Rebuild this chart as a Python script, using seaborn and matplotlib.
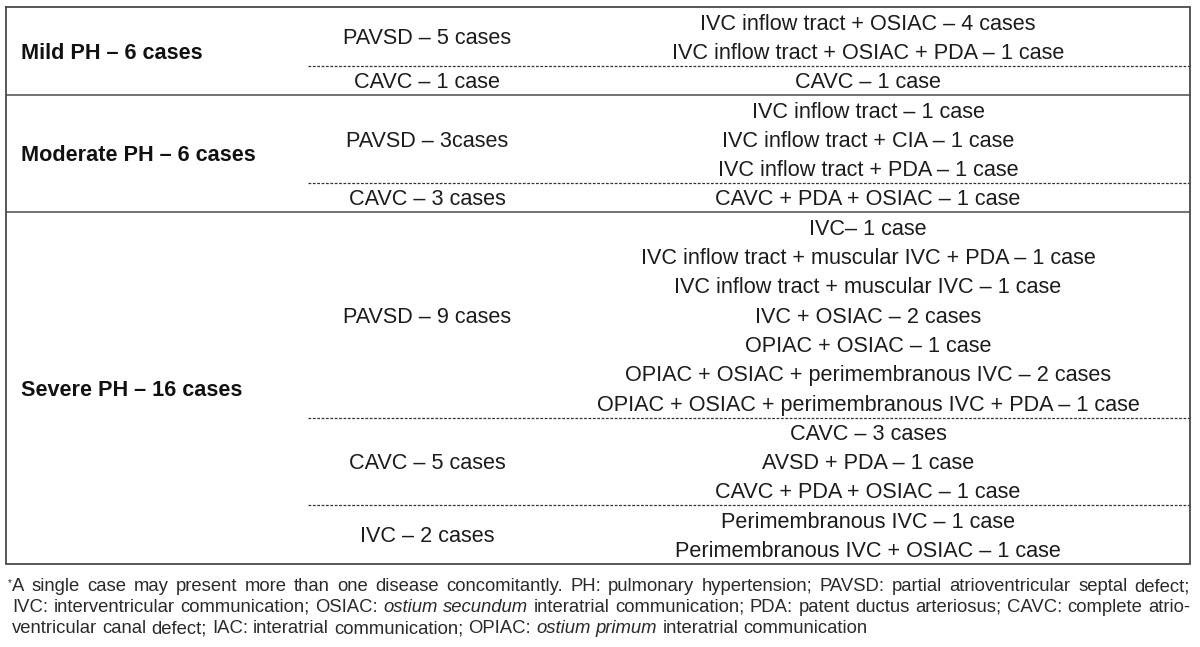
import matplotlib
matplotlib.use("Agg")
import matplotlib.pyplot as plt
import seaborn as sns

# table content
severity = ["Mild PH – 6 cases", "Moderate PH – 6 cases", "Severe PH – 16 cases"]
defects = [
    ["PAVSD – 5 cases", "CAVC – 1 case"],
    ["PAVSD – 3cases", "CAVC – 3 cases"],
    ["PAVSD – 9 cases", "CAVC – 5 cases", "IVC – 2 cases"],
]
mild_details = [
    ["IVC inflow tract + OSIAC – 4 cases", "IVC inflow tract + OSIAC + PDA – 1 case"],
    ["CAVC – 1 case"],
]
moderate_details = [
    ["IVC inflow tract – 1 case", "IVC inflow tract + CIA – 1 case", "IVC inflow tract + PDA – 1 case"],
    ["CAVC + PDA + OSIAC – 1 case"],
]
severe_details = [
    ["IVC– 1 case",
     "IVC inflow tract + muscular IVC + PDA – 1 case",
     "IVC inflow tract + muscular IVC – 1 case",
     "IVC + OSIAC – 2 cases",
     "OPIAC + OSIAC – 1 case",
     "OPIAC + OSIAC + perimembranous IVC – 2 cases",
     "OPIAC + OSIAC + perimembranous IVC + PDA – 1 case"],
    ["CAVC – 3 cases", "AVSD + PDA – 1 case", "CAVC + PDA + OSIAC – 1 case"],
    ["Perimembranous IVC – 1 case", "Perimembranous IVC + OSIAC – 1 case"],
]
details = [mild_details, moderate_details, severe_details]

# footnote lines as (text, italic) segments
foot_lines = [
    [("A single case may present more than one disease concomitantly. PH: pulmonary hypertension; "
      "PAVSD: partial atrioventricular septal defect;", False)],
    [("IVC: interventricular communication; OSIAC:", False), ("ostium secundum", True),
     ("interatrial communication; PDA: patent ductus arteriosus; CAVC: complete atrio-", False)],
    [("ventricular canal defect; IAC: interatrial communication; OPIAC:", False), ("ostium primum", True),
     ("interatrial communication", False)],
]
foot_justify = [True, True, False]

sns.set_theme(style="white")
plt.rcParams["font.family"] = ["Liberation Sans", "DejaVu Sans"]

W, H = 1200, 647
fig = plt.figure(figsize=(12, 6.47), dpi=100)
ax = fig.add_axes([0, 0, 1, 1])
ax.set_xlim(0, W)
ax.set_ylim(H, 0)
ax.axis("off")

row0, step = 22.0, 29.3
def ry(i):
    return row0 + step * i

x_left, x_right = 6, 1190
x_dash = 308
x_mid, x_det, x_sev = 427, 868, 21
txt_col = "#1c1c1c"
line_col = "#4a4a4a"
fs = 15.6
cap = 7.6  # half cap height in px, to put baseline under row centre

row = 0
for g, sev in enumerate(severity):
    g_start = row
    for d, name in enumerate(defects[g]):
        items = details[g][d]
        d_start = row
        for item in items:
            ax.text(x_det, ry(row) + cap, item, ha="center", va="baseline", fontsize=fs, color=txt_col)
            row += 1
        ax.text(x_mid, ry((d_start + row - 1) / 2) + cap, name, ha="center", va="baseline",
                fontsize=fs, color=txt_col)
        if d < len(defects[g]) - 1:
            ax.hlines(ry(row - 0.5), x_dash, x_right, colors="#333333", lw=0.9,
                      linestyles=(0, (2.2, 1.3)))
    ax.text(x_sev, ry((g_start + row - 1) / 2) + cap, sev, ha="left", va="baseline",
            fontsize=fs, fontweight="bold", color="#111111")
    if g < len(severity) - 1:
        ax.hlines(ry(row - 0.5), x_left, x_right, colors=line_col, lw=1.1)

top, bottom = ry(-0.5), ry(row - 0.5)
ax.plot([x_left, x_right, x_right, x_left, x_left], [top, top, bottom, bottom, top],
        color=line_col, lw=1.3, solid_joinstyle="miter")

# footnote, justified word by word
ffs = 13.3
foot_y = [591, 612, 633]
fx0, fx1 = 12, 1190
fig.canvas.draw()
r = fig.canvas.get_renderer()

def width(t):
    return t.get_window_extent(renderer=r).width

probe = ax.text(0, 0, "x x", fontsize=ffs)
probe2 = ax.text(0, 0, "xx", fontsize=ffs)
space_w = width(probe) - width(probe2)
probe.remove()
probe2.remove()

for li, segs in enumerate(foot_lines):
    words = []
    for text, ital in segs:
        for w in text.split(" "):
            words.append(ax.text(0, foot_y[li], w, ha="left", va="baseline", fontsize=ffs,
                                 color="#2a2a2a", style="italic" if ital else "normal"))
    ws = [width(t) for t in words]
    if foot_justify[li]:
        gap = (fx1 - fx0 - sum(ws)) / (len(words) - 1)
    else:
        gap = space_w
    x = fx0
    for t, w in zip(words, ws):
        t.set_x(x)
        x += w + gap

ax.text(fx0 - 0.5, foot_y[0] - 13, "*", ha="right", va="top", fontsize=7, color="#2a2a2a")

fig.savefig("out.png", dpi=100, facecolor="white")
